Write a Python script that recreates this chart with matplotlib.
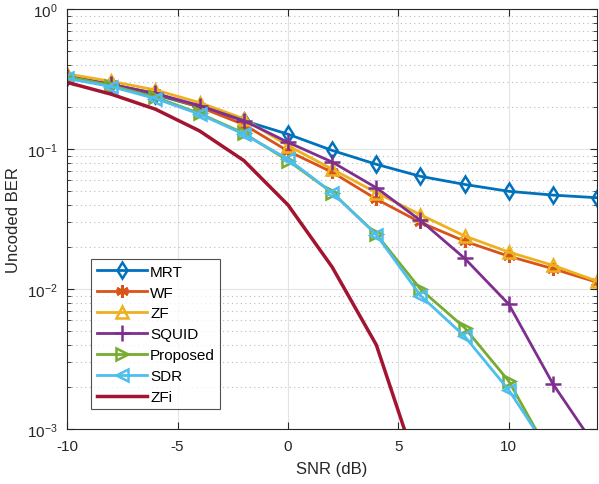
import numpy as np
import matplotlib
matplotlib.use("Agg")
import matplotlib.pyplot as plt
from matplotlib.ticker import LogLocator, NullFormatter

plt.rcParams['font.family'] = ['Liberation Sans', 'DejaVu Sans']
plt.rcParams['mathtext.fontset'] = 'custom'
plt.rcParams['mathtext.rm'] = 'Liberation Sans'
plt.rcParams['axes.unicode_minus'] = False

# SNR grid (dB)
snr = [-10, -8, -6, -4, -2, 0, 2, 4, 6, 8, 10, 12, 14]

# BER curves
ber_mrt = [0.33, 0.29, 0.245, 0.20, 0.16, 0.128, 0.098, 0.078, 0.064, 0.056, 0.050, 0.047, 0.045]
ber_wf = [0.33, 0.29, 0.25, 0.20, 0.15, 0.097, 0.0685, 0.044, 0.030, 0.022, 0.0172, 0.014, 0.0112]
ber_zf = [0.345, 0.305, 0.265, 0.215, 0.165, 0.106, 0.072, 0.049, 0.034, 0.024, 0.0184, 0.0148, 0.0114]
ber_squid = [0.33, 0.29, 0.25, 0.205, 0.16, 0.112, 0.081, 0.053, 0.031, 0.0166, 0.0078, 0.0021, 0.00072]
ber_prop = [0.33, 0.285, 0.235, 0.18, 0.13, 0.083, 0.049, 0.0247, 0.010, 0.0053, 0.0022, 0.0006, 0.0002]
ber_sdr = [0.32, 0.28, 0.23, 0.178, 0.128, 0.085, 0.049, 0.0245, 0.009, 0.0046, 0.0019, 0.00063, 0.0002]
ber_zfi = [0.30, 0.247, 0.193, 0.135, 0.083, 0.040, 0.0144, 0.0040, 0.00045, 0.0001, 0.0001, 0.0001, 0.0001]

fig = plt.figure(figsize=(5.99, 4.85), dpi=100)
ax = fig.add_axes([0.112, 0.113, 0.885, 0.866])

lw = 2.0
ms = 8
ax.semilogy(snr, ber_mrt, '-d', color='#0072BD', lw=lw, ms=ms, mfc='none', mew=1.8, label='MRT')
ax.semilogy(snr, ber_wf, '-', marker=(6, 2, 0), color='#D95319', lw=lw, ms=ms + 1, mew=2.0, label='WF')
ax.semilogy(snr, ber_zf, '-^', color='#EDB120', lw=lw, ms=ms, mfc='none', mew=1.8, label='ZF')
ax.semilogy(snr, ber_squid, '-+', color='#7E2F8E', lw=lw, ms=ms + 3, mew=1.8, label='SQUID')
ax.semilogy(snr, ber_prop, '->', color='#77AC30', lw=lw, ms=ms, mfc='none', mew=1.8, label='Proposed')
ax.semilogy(snr, ber_sdr, '-<', color='#4DBEEE', lw=lw, ms=ms, mfc='none', mew=1.8, label='SDR')
ax.semilogy(snr, ber_zfi, '-', color='#A2142F', lw=lw + 0.5, label='ZFi')

ax.set_xlim(-10, 14)
ax.set_ylim(1e-3, 1)
ax.set_xticks([-10, -5, 0, 5, 10])
ax.yaxis.set_major_locator(LogLocator(base=10, numticks=10))
ax.yaxis.set_minor_locator(LogLocator(base=10, subs=np.arange(2, 10), numticks=20))
ax.yaxis.set_minor_formatter(NullFormatter())

ax.grid(True, which='major', color='#e3e3e3', lw=0.8)
ax.grid(True, which='minor', axis='y', color='#bbbbbb', lw=0.8, ls=(0, (1, 3)))
ax.set_axisbelow(True)

for s in ax.spines.values():
    s.set_color('#262626')
    s.set_linewidth(0.8)
ax.tick_params(which='both', direction='in', top=True, right=True, colors='#262626', labelsize=11)
ax.tick_params(which='major', length=5, pad=7)
ax.tick_params(which='minor', length=3)

ax.set_xlabel('SNR (dB)', fontsize=12, color='#262626', labelpad=6)
ax.set_ylabel('Uncoded BER', fontsize=12, color='#262626')

leg = ax.legend(loc='lower left', bbox_to_anchor=(0.04, 0.04), fontsize=11, frameon=True,
                fancybox=False, edgecolor='#262626', handlelength=3.3, borderaxespad=0.2,
                labelspacing=0.45, handletextpad=0.2, borderpad=0.35)
leg.get_frame().set_linewidth(0.8)

fig.savefig('out.png', dpi=100)
